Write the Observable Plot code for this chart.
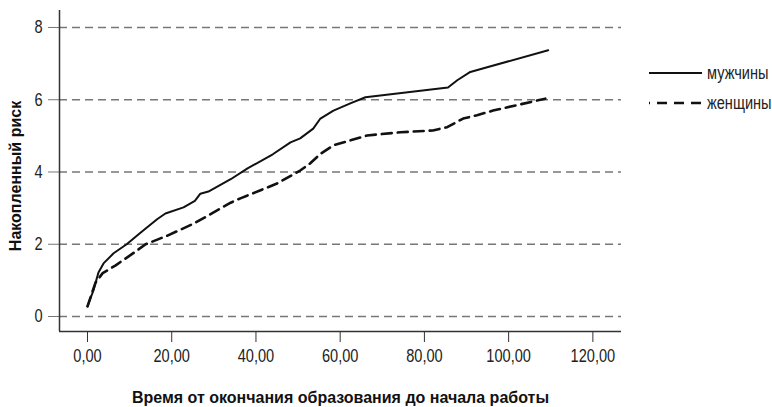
<!DOCTYPE html>
<html>
<head>
<meta charset="utf-8">
<script src="https://cdn.jsdelivr.net/npm/d3@7"></script>
<script src="https://cdn.jsdelivr.net/npm/@observablehq/plot@0.6"></script>
<style>
  html, body { margin: 0; padding: 0; background: #fff; }
  #chart { position: relative; width: 772px; height: 407px; font-family: "Liberation Sans", Arial, sans-serif; color: #222; }
  #legend { position: absolute; left: 649px; top: 58px; font-size: 18px; }
  #legend .row { display: flex; align-items: center; height: 30px; white-space: nowrap; }
  #legend svg { flex: none; margin-right: 5px; }
  #legend span { display: inline-block; transform: scaleX(0.81); transform-origin: left center; }
</style>
</head>
<body>
<div id="chart"></div>
<script>
// Cumulative risk by time from end of education to first job
const menTime = [0, 1.4, 2.6, 3.8, 6.2, 9.3, 12.5, 16.6, 18.5, 22.8, 25.5, 26.8, 28.7, 34, 38, 44, 48.2, 50.5, 53.6, 55.3, 58.4, 62.4, 66, 85.6, 87.8, 90.9, 94.9, 109.4];
const menRisk = [0.28, 0.72, 1.22, 1.47, 1.75, 2.0, 2.31, 2.7, 2.85, 3.02, 3.2, 3.4, 3.46, 3.8, 4.1, 4.49, 4.82, 4.93, 5.2, 5.48, 5.7, 5.9, 6.07, 6.34, 6.54, 6.77, 6.9, 7.37];

const womenTime = [0, 1.9, 3.6, 6.6, 10.7, 13.8, 19, 25.2, 34, 36.3, 45, 50.5, 52.9, 55.3, 58.4, 66.4, 74.3, 82, 85.4, 89.2, 92.5, 96.3, 108.7];
const womenRisk = [0.28, 0.94, 1.2, 1.41, 1.74, 2.0, 2.24, 2.57, 3.15, 3.27, 3.68, 4.04, 4.24, 4.5, 4.74, 5.01, 5.1, 5.15, 5.24, 5.48, 5.57, 5.7, 6.03];

const seriesNames = ["мужчины", "женщины"];
const xTicks = [0, 20, 40, 60, 80, 100, 120];
const yTicks = [0, 2, 4, 6, 8];
const xTitle = "Время от окончания образования до начала работы";
const yTitle = "Накопленный риск";

const men = menTime.map((t, i) => ({time: t, risk: menRisk[i]}));
const women = womenTime.map((t, i) => ({time: t, risk: womenRisk[i]}));

const xDomain = [-6.65, 126.8];
const yDomain = [-0.415, 8.47];
const fmt = d => d3.format(".2f")(d).replace(".", ",");

// Narrow lettering for tick labels and legend (Arial Narrow proportions)
const NARROW = 0.81;

const chart = Plot.plot({
  width: 772,
  height: 407,
  marginLeft: 59,
  marginRight: 151,
  marginTop: 10,
  marginBottom: 76,
  x: {domain: xDomain},
  y: {domain: yDomain},
  style: {
    fontFamily: "'Liberation Sans', Arial, sans-serif",
    fontSize: "18px",
    color: "#222",
    background: "white"
  },
  marks: [
    Plot.gridY(yTicks, {stroke: "#777", strokeOpacity: 1, strokeWidth: 1.3, strokeDasharray: "8,5"}),
    Plot.axisY(yTicks, {tickSize: 11, tickPadding: 6, stroke: "#777", fill: "#222", label: null, fontSize: 18}),
    Plot.axisX(xTicks, {tickSize: 11, tickPadding: 7, stroke: "#333", fill: "#222", label: null, tickFormat: fmt, fontSize: 18}),
    Plot.ruleX([xDomain[0]], {stroke: "#333", strokeWidth: 1.5}),
    Plot.ruleY([yDomain[0]], {stroke: "#333", strokeWidth: 1.5}),
    Plot.line(women, {x: "time", y: "risk", stroke: "#111", strokeWidth: 2.6, strokeDasharray: "10,6"}),
    Plot.line(men, {x: "time", y: "risk", stroke: "#111", strokeWidth: 2}),
    Plot.text([xTitle], {frameAnchor: "bottom", lineAnchor: "middle", textAnchor: "middle", dy: 66, fontWeight: "bold", fontSize: 16, fill: "#111"}),
    Plot.text([yTitle], {frameAnchor: "left", lineAnchor: "middle", textAnchor: "middle", dx: -44, dy: 5, rotate: -90, fontWeight: "bold", fontSize: 16, fill: "#111"})
  ]
});

// Condense the tick labels around their anchor points
chart.querySelectorAll("text").forEach(t => {
  const s = t.textContent;
  if (s === xTitle || s === yTitle) return;
  const tr = t.getAttribute("transform") || "";
  t.setAttribute("transform", (tr + ` scale(${NARROW},1)`).trim());
});

const root = document.getElementById("chart");
root.appendChild(chart);

// Legend in the right margin
const legend = document.createElement("div");
legend.id = "legend";
const styles = [{dash: null, width: 2}, {dash: "10,7", width: 2.6, offset: 9}];
seriesNames.forEach((name, i) => {
  const row = document.createElement("div");
  row.className = "row";
  const s = styles[i];
  row.innerHTML = `<svg width="53" height="6"><line x1="0" y1="3" x2="53" y2="3" stroke="#111" stroke-width="${s.width}"${s.dash ? ` stroke-dasharray="${s.dash}" stroke-dashoffset="${s.offset}"` : ""}/></svg><span>${name}</span>`;
  legend.appendChild(row);
});
root.appendChild(legend);
</script>
</body>
</html>
